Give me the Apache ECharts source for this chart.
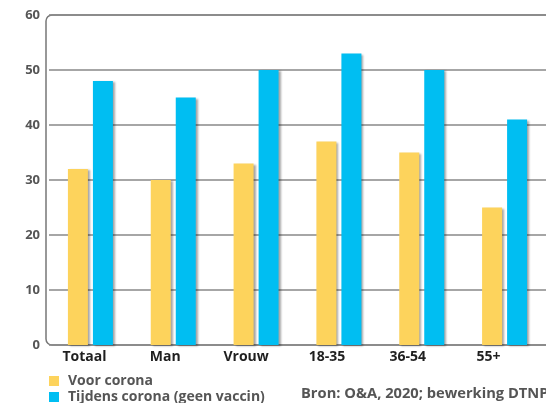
<!DOCTYPE html>
<html>
<head>
<meta charset="utf-8">
<script src="https://cdn.jsdelivr.net/npm/echarts@6/dist/echarts.min.js"></script>
<style>html,body{margin:0;padding:0;background:#fff}#c{width:546px;height:403px}</style>
</head>
<body>
<div id="c"></div>
<script>
const categories = ['Totaal', 'Man', 'Vrouw', '18-35', '36-54', '55+'];
const voorCorona = [32, 30, 33, 37, 35, 25];
const tijdensCorona = [48, 45, 50, 53, 50, 41];
const yTicks = [0, 10, 20, 30, 40, 50, 60];
const seriesNames = ['Voor corona', 'Tijdens corona (geen vaccin)'];
const sourceText = 'Bron: O&A, 2020; bewerking DTNP';

const chart = echarts.init(document.getElementById('c'));
const FONT = '"Open Sans", "Noto Sans", sans-serif';
const shadow = { shadowColor: 'rgba(0,0,0,0.35)', shadowOffsetX: 2, shadowOffsetY: 1, shadowBlur: 2 };
const legendText = { color: '#555', fontFamily: FONT, fontWeight: 'bold', fontSize: 14, padding: [0, 0, 0, 4] };
chart.setOption({
  animation: false,
  backgroundColor: '#fff',
  grid: [
    { left: 49, right: 0, top: 15, bottom: 58 },
    { left: 44, width: 485, top: 15, bottom: 58 }
  ],
  xAxis: [
    { type: 'category', gridIndex: 0, data: categories, axisLine: { show: false }, axisTick: { show: false }, axisLabel: { show: false } },
    { type: 'category', gridIndex: 1, data: categories, axisLine: { show: false }, axisTick: { show: false },
      axisLabel: { margin: 5, color: '#1f1f1f', fontFamily: FONT, fontWeight: 'bold', fontSize: 14 } }
  ],
  yAxis: [
    { type: 'value', gridIndex: 0, min: yTicks[0], max: yTicks[yTicks.length - 1], interval: 10,
      axisLine: { show: false }, axisTick: { show: false },
      axisLabel: { margin: 9, color: '#555', fontFamily: FONT, fontWeight: 'bold', fontSize: 13,
        verticalAlign: 'top', padding: [-6, 0, 0, 0] },
      splitLine: { lineStyle: { color: '#888', width: 1.5 } } },
    { type: 'value', gridIndex: 1, min: 0, max: 60, show: false }
  ],
  legend: [
    { left: 44, top: 369, itemWidth: 10, itemHeight: 10, icon: 'rect', data: [seriesNames[0]], textStyle: legendText },
    { left: 44, top: 385, itemWidth: 10, itemHeight: 10, icon: 'rect', data: [seriesNames[1]], textStyle: legendText }
  ],
  graphic: [
    { type: 'rect', z: 0, shape: { x: 46, y: 15, width: 520, height: 330, r: 6 },
      style: { fill: 'none', stroke: '#777', lineWidth: 1.5 } },
    { type: 'text', left: 301, top: 386,
      style: { text: sourceText, fill: '#555', font: 'bold 14.7px "Open Sans", "Noto Sans", sans-serif' } }
  ],
  series: [
    { name: seriesNames[0], type: 'bar', xAxisIndex: 0, yAxisIndex: 0, data: voorCorona, barWidth: 20, barGap: '25%',
      itemStyle: Object.assign({ color: '#FDD35C' }, shadow) },
    { name: seriesNames[1], type: 'bar', xAxisIndex: 0, yAxisIndex: 0, data: tijdensCorona, barWidth: 20, barGap: '25%',
      itemStyle: Object.assign({ color: '#00BEF2' }, shadow) }
  ]
});
</script>
</body>
</html>
